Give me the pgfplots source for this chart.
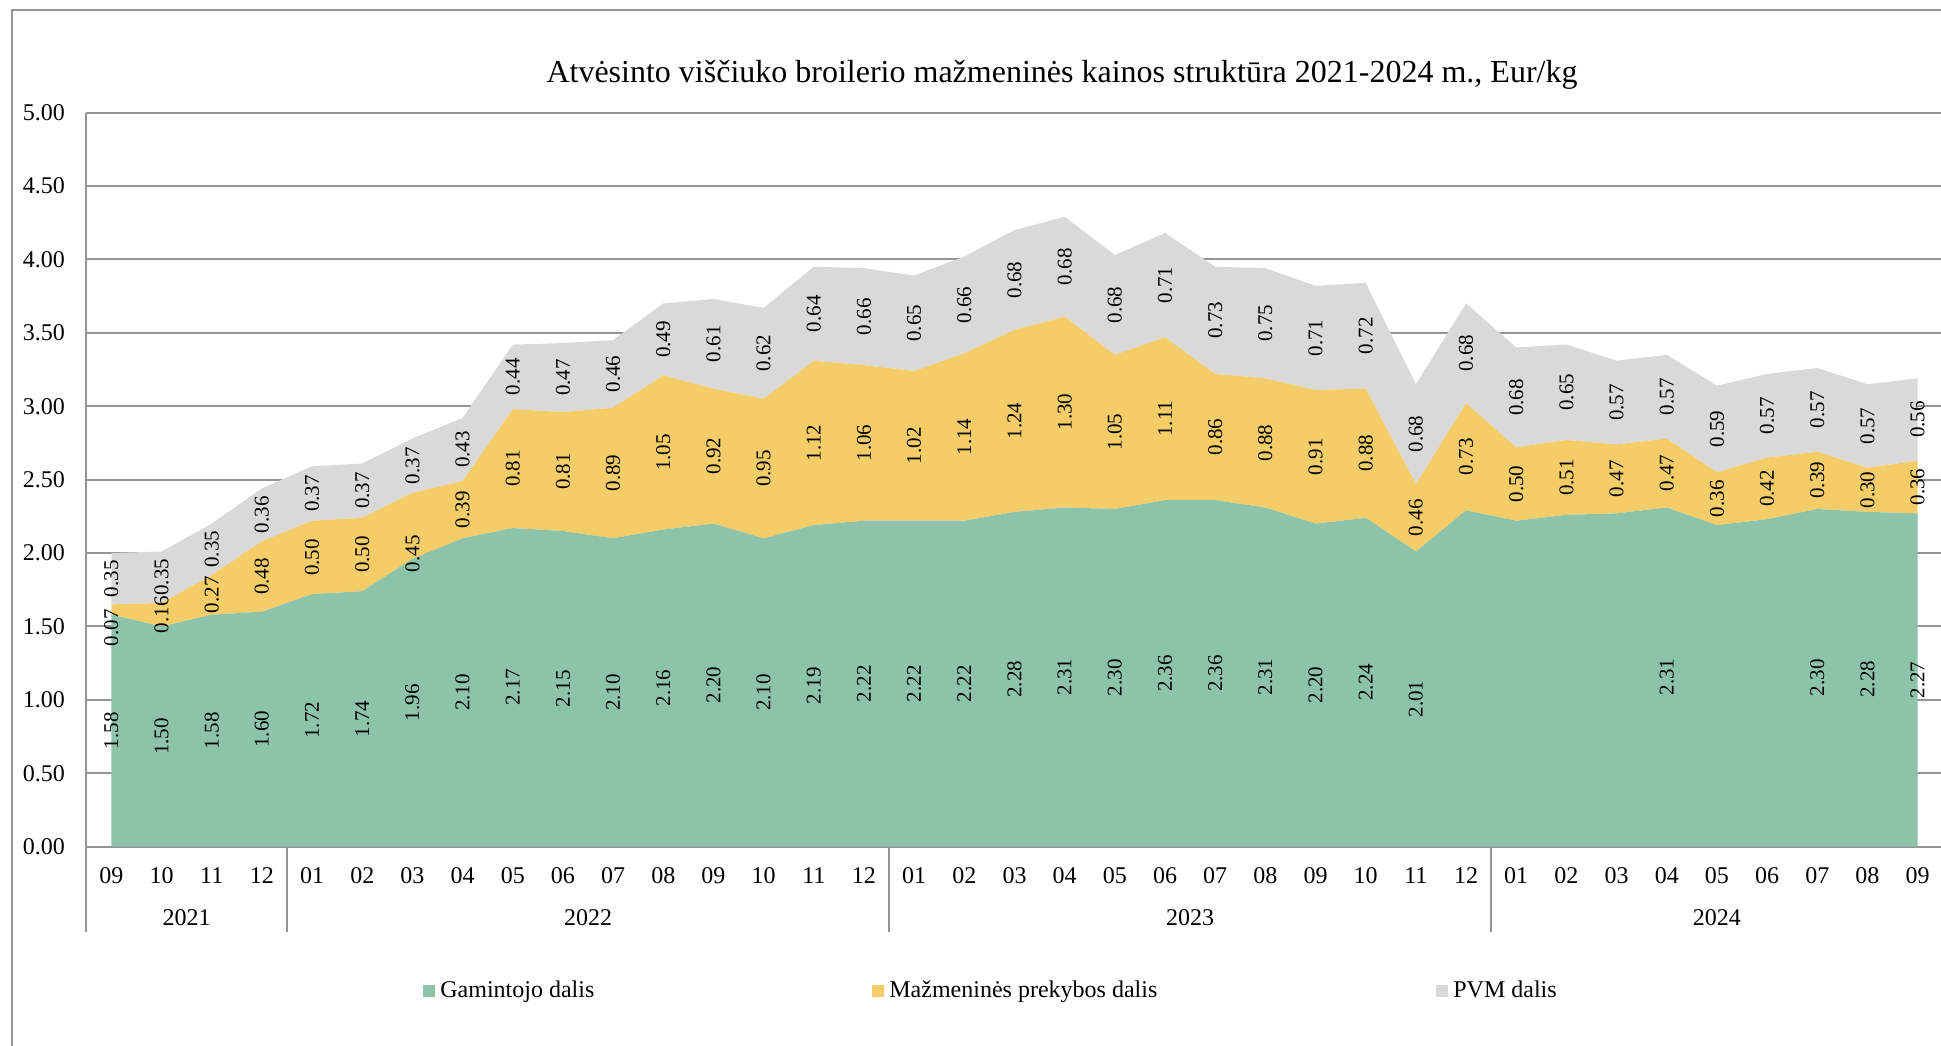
\documentclass[border=0pt]{standalone}
\usepackage{pgfplots}
\usepackage{pgfplotstable}
\pgfplotsset{compat=1.18}
\usepackage{fontspec}
\setmainfont{Liberation Serif}

\definecolor{gamc}{HTML}{8DC3A8}
\definecolor{prekc}{HTML}{F5CD68}
\definecolor{pvmc}{HTML}{D9D9D9}
\definecolor{linec}{HTML}{949494}

% g = gamintojo, y = mazmenines prekybos, p = PVM; gl = green label text, yo = label offset
\pgfplotstableread{
x g y p gl yo
0 1.58 0.07 0.35 1.58 -0.125
1 1.50 0.16 0.35 1.50 0
2 1.58 0.27 0.35 1.58 0
3 1.60 0.48 0.36 1.60 0
4 1.72 0.50 0.37 1.72 0
5 1.74 0.50 0.37 1.74 0
6 1.96 0.45 0.37 1.96 -0.19
7 2.10 0.39 0.43 2.10 0
8 2.17 0.81 0.44 2.17 0
9 2.15 0.81 0.47 2.15 0
10 2.10 0.89 0.46 2.10 0
11 2.16 1.05 0.49 2.16 0
12 2.20 0.92 0.61 2.20 0
13 2.10 0.95 0.62 2.10 0
14 2.19 1.12 0.64 2.19 0
15 2.22 1.06 0.66 2.22 0
16 2.22 1.02 0.65 2.22 0
17 2.22 1.14 0.66 2.22 0
18 2.28 1.24 0.68 2.28 0
19 2.31 1.30 0.68 2.31 0
20 2.30 1.05 0.68 2.30 0
21 2.36 1.11 0.71 2.36 0
22 2.36 0.86 0.73 2.36 0
23 2.31 0.88 0.75 2.31 0
24 2.20 0.91 0.71 2.20 0
25 2.24 0.88 0.72 2.24 0
26 2.01 0.46 0.68 2.01 0
27 2.29 0.73 0.68 {} 0
28 2.22 0.50 0.68 {} 0
29 2.26 0.51 0.65 {} 0
30 2.27 0.47 0.57 {} 0
31 2.31 0.47 0.57 2.31 0
32 2.19 0.36 0.59 {} 0
33 2.23 0.42 0.57 {} 0
34 2.30 0.39 0.57 2.30 0
35 2.28 0.30 0.57 2.28 0
36 2.27 0.36 0.56 2.27 0
}\data

\begin{document}
\begin{tikzpicture}
\useasboundingbox (0pt,0pt) rectangle (970.5pt,522.5pt);
\draw[linec, line width=1pt] (6pt,-5pt) -- (6pt,517.5pt) -- (990pt,517.5pt);
\node[font=\fontsize{16}{19}\selectfont] at (531pt,485pt)
  {Atvėsinto viščiuko broilerio mažmeninės kainos struktūra 2021-2024 m., Eur/kg};

\begin{axis}[
  at={(43.15pt,99.2pt)}, anchor=south west,
  width=928.2pt, height=367pt, scale only axis,
  xmin=-0.5, xmax=36.5, ymin=0, ymax=5,
  clip=false,
  stack plots=y,
  separate axis lines,
  axis x line*=bottom, axis y line*=left,
  axis line style={linec, line width=1pt},
  ymajorgrids, grid style={linec, line width=1pt},
  major tick length=0pt,
  ytick={0,0.5,1,1.5,2,2.5,3,3.5,4,4.5,5},
  yticklabel style={anchor=east, inner sep=0pt, xshift=-10.5pt,
    /pgf/number format/.cd, fixed, fixed zerofill, precision=2},
  xtick={0,...,36},
  xticklabels={09,10,11,12,01,02,03,04,05,06,07,08,09,10,11,12,01,02,03,04,05,06,07,08,09,10,11,12,01,02,03,04,05,06,07,08,09},
  xticklabel style={anchor=center, inner sep=0pt, yshift=-14.7pt},
  tick label style={font=\fontsize{12}{14}\selectfont},
  /pgf/number format/assume math mode=true,
  no markers,
  nodes near coords,
  point meta=explicit symbolic,
  nodes near coords align=center,
  every node near coord/.append style={shift={(axis direction cs:0,\lshift)},
    rotate=90, anchor=center, inner sep=0pt, text=black,
    font=\fontsize{10.5}{12}\selectfont},
  legend columns=3,
  legend style={at={(0.18137,-0.19646)}, anchor=west, draw=none, fill=none, inner sep=0pt,
    nodes={inner sep=0pt, font=\fontsize{12}{14}\selectfont},
    /tikz/every odd column/.append style={column sep=2.5pt}},
  legend image code/.code={\fill[#1] (0pt,-3pt) rectangle (6pt,3pt);},
]
\addplot[fill=gamc, draw=none,
  visualization depends on={-0.5*\thisrow{g} \as \lshift}]
  table[x=x, y=g, meta=gl] {\data} \closedcycle;
\addlegendentry{\makebox[216pt][l]{Gamintojo dalis}}
\addplot[fill=prekc, draw=none,
  visualization depends on={-0.5*\thisrow{y}+\thisrow{yo} \as \lshift}]
  table[x=x, y=y, meta=y] {\data} \closedcycle;
\addlegendentry{\makebox[273.5pt][l]{Mažmeninės prekybos dalis}}
\addplot[fill=pvmc, draw=none,
  visualization depends on={-0.5*\thisrow{p} \as \lshift}]
  table[x=x, y=p, meta=p] {\data} \closedcycle;
\addlegendentry{PVM dalis}

\draw[linec, line width=1pt] (axis cs:-0.5,0) -- ++(0pt,-42.7pt);
\draw[linec, line width=1pt] (axis cs:3.5,0) -- ++(0pt,-42.7pt);
\draw[linec, line width=1pt] (axis cs:15.5,0) -- ++(0pt,-42.7pt);
\draw[linec, line width=1pt] (axis cs:27.5,0) -- ++(0pt,-42.7pt);
\node[font=\fontsize{12}{14}\selectfont, yshift=-35.7pt] at (axis cs:1.5,0) {2021};
\node[font=\fontsize{12}{14}\selectfont, yshift=-35.7pt] at (axis cs:9.5,0) {2022};
\node[font=\fontsize{12}{14}\selectfont, yshift=-35.7pt] at (axis cs:21.5,0) {2023};
\node[font=\fontsize{12}{14}\selectfont, yshift=-35.7pt] at (axis cs:32,0) {2024};
\end{axis}
\end{tikzpicture}
\end{document}
